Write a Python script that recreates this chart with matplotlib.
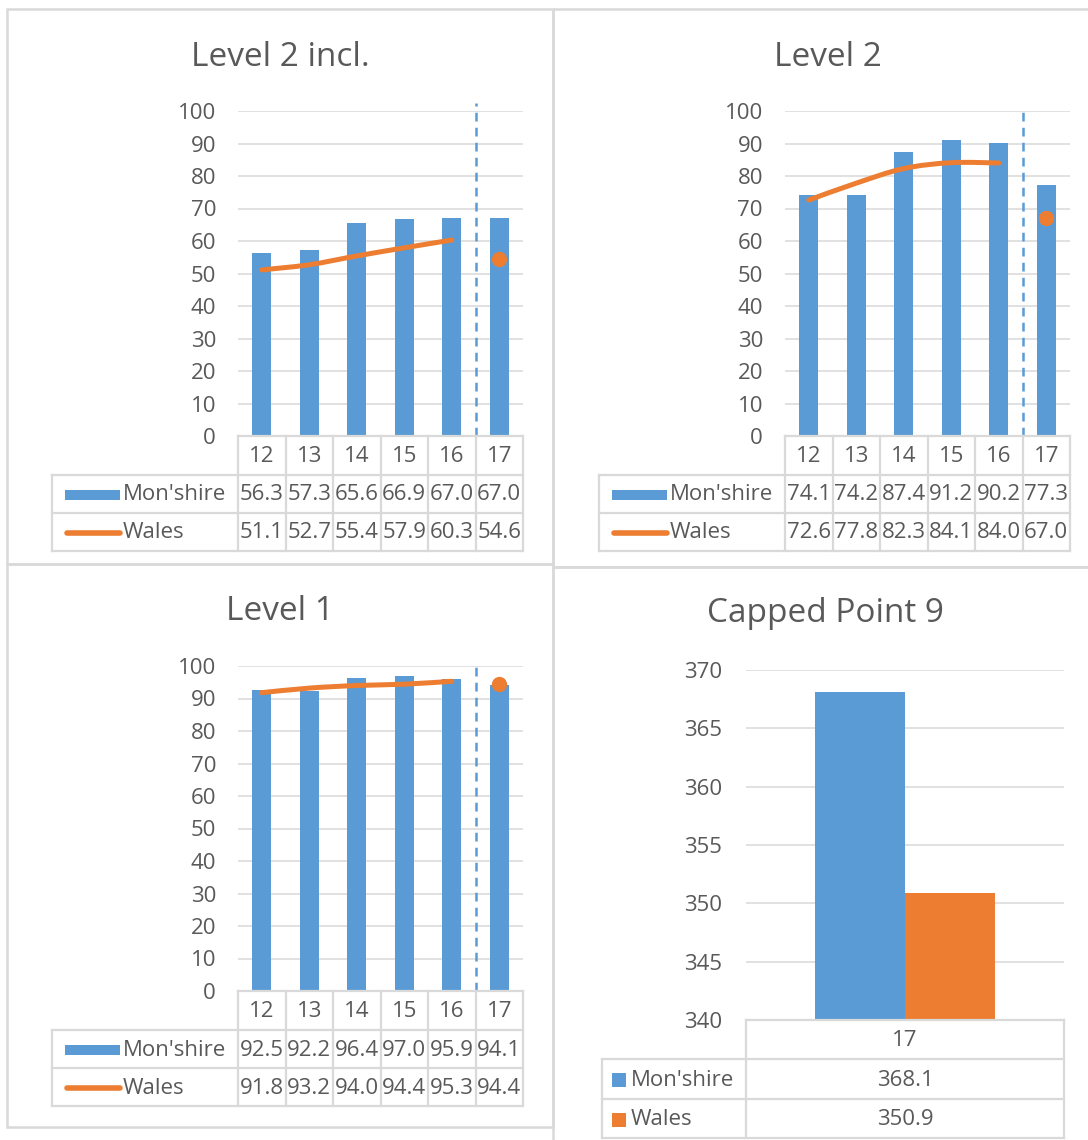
import matplotlib
matplotlib.use('Agg')
import matplotlib.pyplot as plt
from matplotlib.path import Path
from matplotlib.patches import PathPatch, Rectangle

plt.rcParams['font.family'] = ['Open Sans', 'DejaVu Sans']

# ---------------- data ----------------
years = ['12', '13', '14', '15', '16', '17']
series_names = ["Mon'shire", "Wales"]

l2i_mon = [56.3, 57.3, 65.6, 66.9, 67.0, 67.0]
l2i_wal = [51.1, 52.7, 55.4, 57.9, 60.3, 54.6]

l2_mon = [74.1, 74.2, 87.4, 91.2, 90.2, 77.3]
l2_wal = [72.6, 77.8, 82.3, 84.1, 84.0, 67.0]

l1_mon = [92.5, 92.2, 96.4, 97.0, 95.9, 94.1]
l1_wal = [91.8, 93.2, 94.0, 94.4, 95.3, 94.4]

cp_years = ['17']
cp_mon = [368.1]
cp_wal = [350.9]

# ---------------- style ----------------
BLUE = '#5B9BD5'
ORANGE = '#ED7D31'
TXT = '#595959'
GRID = '#D9D9D9'
FRAME = '#D9D9D9'
FS = 16
TFS = 24

W, H = 1088, 1140
fig = plt.figure(figsize=(W / 100, H / 100), dpi=100)

bg = fig.add_axes([0, 0, 1, 1])
bg.set_xlim(0, W)
bg.set_ylim(H, 0)
bg.axis('off')
bg.set_zorder(-10)


def frame(x0, y0, x1, y1):
    bg.add_patch(Rectangle((x0, y0), x1 - x0, y1 - y0, fill=False,
                           ec=FRAME, lw=1.8))


frame(7, 9, 553, 564)
frame(553, 9, 1095, 567)
frame(7, 564, 553, 1127)
frame(553, 567, 1095, 1150)


def px_axes(x0, y0, x1, y1):
    return fig.add_axes([x0 / W, 1 - y1 / H, (x1 - x0) / W, (y1 - y0) / H])


def smooth_path(xs, ys):
    pts = list(zip(xs, ys))
    n = len(pts)
    verts = [pts[0]]
    codes = [Path.MOVETO]
    for i in range(n - 1):
        p0 = pts[i - 1] if i > 0 else pts[i]
        p1 = pts[i]
        p2 = pts[i + 1]
        p3 = pts[i + 2] if i + 2 < n else pts[i + 1]
        c1 = (p1[0] + (p2[0] - p0[0]) / 6, p1[1] + (p2[1] - p0[1]) / 6)
        c2 = (p2[0] - (p3[0] - p1[0]) / 6, p2[1] - (p3[1] - p1[1]) / 6)
        verts += [c1, c2, p2]
        codes += [Path.CURVE4] * 3
    return Path(verts, codes)


def style_axes(ax, ticks, pad_px):
    ax.set_yticks(ticks)
    ax.set_xticks([])
    for s in ax.spines.values():
        s.set_visible(False)
    ax.tick_params(axis='y', length=0, pad=pad_px * 0.72, labelsize=FS,
                   labelcolor=TXT)
    ax.yaxis.grid(True, color=GRID, lw=1.1)
    ax.set_axisbelow(True)


def data_table(x_left_px, x0, x1, y0, rows_px, cats, values, ncat, legend_kind):
    cw = (x1 - x0) / ncat
    tax = px_axes(x_left_px, y0, x1, rows_px[-1])
    left = -0.5 - (x0 - x_left_px) / cw
    tax.set_xlim(left, ncat - 0.5)
    tax.set_ylim(rows_px[-1], y0)
    tax.axis('off')
    kw = dict(color=GRID, lw=1.6, clip_on=False, solid_capstyle='projecting')
    tax.plot([-0.5, ncat - 0.5], [rows_px[0], rows_px[0]], **kw)
    for r in rows_px[1:]:
        tax.plot([left, ncat - 0.5], [r, r], **kw)
    for i in range(ncat + 1):
        tax.plot([i - 0.5, i - 0.5], [rows_px[0], rows_px[-1]], **kw)
    tax.plot([left, left], [rows_px[1], rows_px[-1]], **kw)
    for i, c in enumerate(cats):
        tax.text(i, (rows_px[0] + rows_px[1]) / 2 + 1, c, ha='center',
                 va='center', fontsize=FS, color=TXT)
    colors = [BLUE, ORANGE]
    for r, (name, vals) in enumerate(zip(series_names, values)):
        yc = (rows_px[r + 1] + rows_px[r + 2]) / 2 + 1
        for i, v in enumerate(vals):
            tax.text(i, yc, f'{v:.1f}', ha='center', va='center',
                     fontsize=FS, color=TXT)
        if legend_kind == 'barline':
            kx0 = left + 13 / cw
            kx1 = left + 68 / cw
            if r == 0:
                tax.add_patch(Rectangle((kx0, yc - 5), kx1 - kx0, 10,
                                        fc=colors[r], ec='none', clip_on=False))
            else:
                tax.plot([kx0 + 0.05, kx1], [yc, yc], color=colors[r], lw=4,
                         solid_capstyle='round', clip_on=False)
            tax.text(left + 71 / cw, yc, name, ha='left', va='center',
                     fontsize=FS, color=TXT)
        else:
            kx0 = left + 10 / cw
            tax.add_patch(Rectangle((kx0, yc - 7), 14 / cw, 14,
                                    fc=colors[r], ec='none', clip_on=False))
            tax.text(left + 29 / cw, yc, name, ha='left', va='center',
                     fontsize=FS, color=TXT)
    return tax


def line_panel(px0, py0, title, tcx, tcy, mon, wal, dash_top):
    x1 = px0 + 285
    y_zero = py0 + 325
    ax = px_axes(px0, py0, x1, y_zero)
    ax.set_xlim(-0.5, len(years) - 0.5)
    ax.set_ylim(0, 100)
    style_axes(ax, range(0, 101, 10), 22)
    xs = list(range(len(years)))
    ax.bar(xs, mon, width=0.4, color=BLUE, zorder=2)
    ax.plot([4.5, 4.5], [0, dash_top], color=BLUE, lw=1.8,
            ls=(0, (3.5, 2.5)), clip_on=False, zorder=3)
    p = smooth_path(xs[:5], wal[:5])
    ax.add_patch(PathPatch(p, fc='none', ec=ORANGE, lw=3.6,
                           capstyle='round', zorder=4))
    ax.plot([xs[5]], [wal[5]], 'o', color=ORANGE, ms=10, mec=ORANGE,
            zorder=5)
    fig.text(tcx / W, 1 - tcy / H, title, ha='center', va='center',
             fontsize=TFS, color=TXT)
    rows = [y_zero, y_zero + 39, y_zero + 77, y_zero + 115]
    data_table(px0 - 186, px0, x1, y_zero, rows, years, [mon, wal],
               len(years), 'barline')


line_panel(238, 111, 'Level 2 incl.', 280, 57, l2i_mon, l2i_wal, 102.5)
line_panel(785, 111, 'Level 2', 828, 57, l2_mon, l2_wal, 100.5)
line_panel(238, 666, 'Level 1', 280, 612, l1_mon, l1_wal, 100)

# ---------------- Capped Point 9 ----------------
ax = px_axes(746, 670, 1064, 1020)
ax.set_xlim(-0.5, 0.5)
ax.set_ylim(340, 370)
style_axes(ax, range(340, 371, 5), 24)
bw = 0.283
ax.bar([i - bw / 2 for i in range(len(cp_years))], cp_mon, width=bw,
       color=BLUE, zorder=2)
ax.bar([i + bw / 2 for i in range(len(cp_years))], cp_wal, width=bw,
       color=ORANGE, zorder=2)
fig.text(825 / W, 1 - 614 / H, 'Capped Point 9', ha='center', va='center',
         fontsize=TFS, color=TXT)
data_table(602, 746, 1064, 1020, [1020, 1059, 1099, 1138], cp_years,
           [cp_mon, cp_wal], 1, 'square')

fig.savefig('out.png', dpi=100)
